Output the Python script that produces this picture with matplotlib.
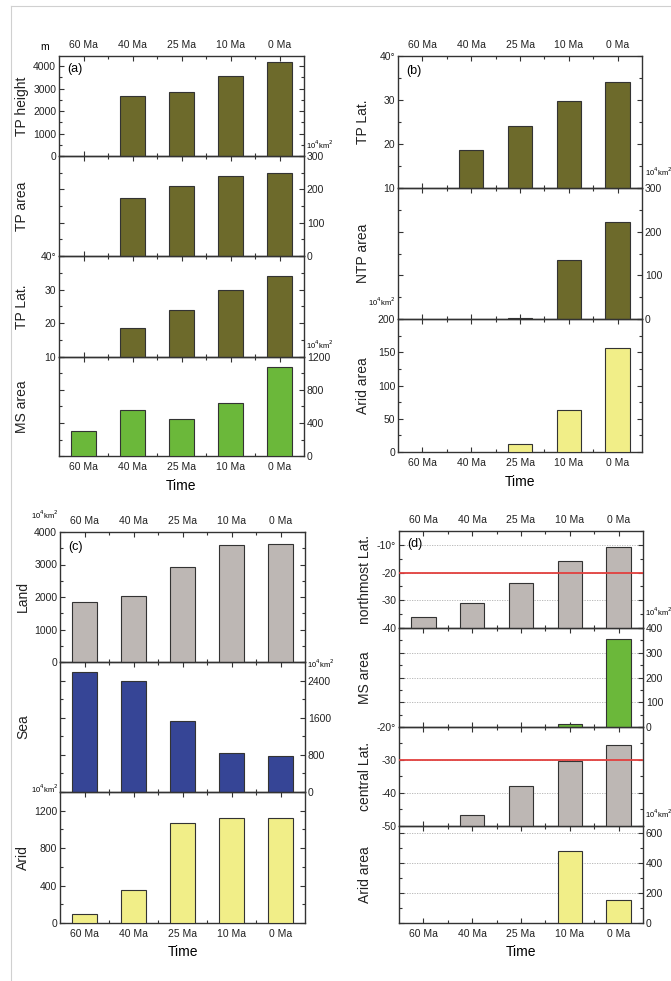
import numpy as np
import matplotlib
matplotlib.use("Agg")
import matplotlib.pyplot as plt
from matplotlib.ticker import AutoMinorLocator, FixedLocator, FuncFormatter

plt.rcParams['font.family'] = ['Liberation Sans', 'DejaVu Sans']

# ---------------- data ----------------
times = ["60 Ma", "40 Ma", "25 Ma", "10 Ma", "0 Ma"]

# panel (a)
a_tp_height = [np.nan, 2690, 2840, 3540, 4190]
a_tp_area = [np.nan, 174, 210, 240, 249]
a_tp_lat = [np.nan, 18.7, 24.1, 30.0, 34.1]
a_ms_area = [304, 560, 448, 648, 1080]

# panel (b)
b_tp_lat = [np.nan, 18.7, 24.0, 29.8, 34.2]
b_ntp_area = [np.nan, np.nan, 2, 134, 223]
b_arid_area = [np.nan, np.nan, 12.7, 62.8, 156.6]

# panel (c)
c_land = [1846, 2020, 2920, 3590, 3640]
c_sea = [2585, 2400, 1530, 840, 784]
c_arid = [93, 357, 1069, 1126, 1122]

# panel (d)
d_north_lat = [-36.0, -31.1, -23.7, -15.9, -10.9]
d_ms_area = [np.nan, np.nan, np.nan, 12, 355]
d_central_lat = [np.nan, -46.8, -38.0, -30.4, -25.5]
d_arid_area = [np.nan, np.nan, np.nan, 481, 150]

OLIVE = "#6d6a2b"
GREEN = "#6bb83a"
GRAY = "#bdb7b4"
BLUE = "#364596"
YELLOW = "#f1ee88"
RED = "#e2403e"
EDGE = "#333333"

W, H = 671, 981
fig = plt.figure(figsize=(W / 100, H / 100), dpi=100)
fig.patch.set_facecolor("white")

# light frame
fig.add_artist(plt.Line2D([11 / W, 11 / W], [0, 1 - 6 / H], color="#d0d0d0", lw=0.8))
fig.add_artist(plt.Line2D([11 / W, 1], [1 - 6 / H, 1 - 6 / H], color="#d0d0d0", lw=0.8))

TICKFS = 7.5
LABFS = 10


def ax_at(x0, y0, x1, y1):
    return fig.add_axes([x0 / W, 1 - y1 / H, (x1 - x0) / W, (y1 - y0) / H])


def fmt_deg(top):
    def f(v, pos):
        s = "%d" % round(v)
        if abs(v - top) < 1e-6:
            s += "°"
        return s
    return f


def make(ax, vals, color, ylim, yticks, side, ylabel, labx, xlab=None,
         deg=False, grid=False, hline=None):
    x = np.arange(len(times))
    v = np.array(vals, dtype=float)
    base = ylim[0]
    ax.bar(x, v - base, bottom=base, width=0.5, color=color, edgecolor=EDGE,
           linewidth=0.8, zorder=3)
    ax.set_xlim(-0.5, 4.5)
    ax.set_ylim(*ylim)
    ax.yaxis.set_major_locator(FixedLocator(yticks))
    ax.yaxis.set_minor_locator(AutoMinorLocator(2))
    ax.xaxis.set_major_locator(FixedLocator(x))
    ax.xaxis.set_minor_locator(FixedLocator(x[:-1] + 0.5))
    ax.set_xticklabels(times)
    if deg:
        ax.yaxis.set_major_formatter(FuncFormatter(fmt_deg(ylim[1])))
    ax.tick_params(axis="both", which="both", direction="in", top=True,
                   bottom=True, left=True, right=True, colors=EDGE,
                   labelcolor="#222222", labelsize=TICKFS, width=0.8)
    ax.tick_params(which="major", length=3.5)
    ax.tick_params(which="minor", length=2.2)
    ax.tick_params(axis="x", labelbottom=(xlab == "bottom"),
                   labeltop=(xlab == "top"), pad=4)
    if side == "left":
        ax.tick_params(axis="y", labelleft=True, labelright=False, pad=2)
    else:
        ax.tick_params(axis="y", labelleft=False, labelright=True, pad=2)
    for s in ax.spines.values():
        s.set_color(EDGE)
        s.set_linewidth(1.0)
    ax.set_ylabel(ylabel, fontsize=LABFS, color="#222222")
    ax.yaxis.set_label_coords(labx, 0.5)
    ax.patch.set_alpha(0)
    if grid:
        ax.set_axisbelow(True)
        ax.yaxis.grid(True, which="major", linestyle=(0, (1.5, 1.5)),
                      color="#b0b0b0", lw=0.6)
    if hline is not None:
        ax.axhline(hline, color=RED, lw=1.3, zorder=5)
    return ax


UNIT = "10$^4$km$^2$"
UFS = 5.5

# ---------- panel (a) ----------
ax_l, ax_r = 59, 304
edges = [56, 156, 256, 357, 456]
lx = (29 - ax_l) / (ax_r - ax_l)
a1 = make(ax_at(ax_l, edges[0], ax_r, edges[1]), a_tp_height, OLIVE, (0, 4450),
          [0, 1000, 2000, 3000, 4000], "left", "TP height", lx, xlab="top")
a2 = make(ax_at(ax_l, edges[1], ax_r, edges[2]), a_tp_area, OLIVE, (0, 300),
          [0, 100, 200, 300], "right", "TP area", lx)
a3 = make(ax_at(ax_l, edges[2], ax_r, edges[3]), a_tp_lat, OLIVE, (10, 40),
          [10, 20, 30, 40], "left", "TP Lat.", lx, deg=True)
a4 = make(ax_at(ax_l, edges[3], ax_r, edges[4]), a_ms_area, GREEN, (0, 1200),
          [0, 400, 800, 1200], "right", "MS area", lx, xlab="bottom")
a1.text(0.035, 0.93, "(a)", transform=a1.transAxes, fontsize=9, va="top")
a4.set_xlabel("Time", fontsize=LABFS, labelpad=5)
fig.text(45 / W, 1 - 47 / H, "m", fontsize=TICKFS, ha="center", va="center")
fig.text(306 / W, 1 - 145 / H, UNIT, fontsize=UFS, ha="left", va="center")
fig.text(306 / W, 1 - 345 / H, UNIT, fontsize=UFS, ha="left", va="center")

# ---------- panel (b) ----------
bx_l, bx_r = 398, 642
bedges = [56, 188, 319, 452]
lxb = (370 - bx_l) / (bx_r - bx_l)
b1 = make(ax_at(bx_l, bedges[0], bx_r, bedges[1]), b_tp_lat, OLIVE, (10, 40),
          [10, 20, 30, 40], "left", "TP Lat.", lxb, xlab="top", deg=True)
b2 = make(ax_at(bx_l, bedges[1], bx_r, bedges[2]), b_ntp_area, OLIVE, (0, 300),
          [0, 100, 200, 300], "right", "NTP area", lxb)
b3 = make(ax_at(bx_l, bedges[2], bx_r, bedges[3]), b_arid_area, YELLOW, (0, 200),
          [0, 50, 100, 150, 200], "left", "Arid area", lxb, xlab="bottom")
b1.text(0.035, 0.93, "(b)", transform=b1.transAxes, fontsize=9, va="top")
b3.set_xlabel("Time", fontsize=LABFS, labelpad=5)
fig.text(645 / W, 1 - 172 / H, UNIT, fontsize=UFS, ha="left", va="center")
fig.text(395 / W, 1 - 302 / H, UNIT, fontsize=UFS, ha="right", va="center")

# ---------- panel (c) ----------
cx_l, cx_r = 60, 305
cedges = [532, 662, 792, 923]
lxc = (30 - cx_l) / (cx_r - cx_l)
c1 = make(ax_at(cx_l, cedges[0], cx_r, cedges[1]), c_land, GRAY, (0, 4000),
          [0, 1000, 2000, 3000, 4000], "left", "Land", lxc, xlab="top")
c2 = make(ax_at(cx_l, cedges[1], cx_r, cedges[2]), c_sea, BLUE, (0, 2800),
          [0, 800, 1600, 2400], "right", "Sea", lxc)
c3 = make(ax_at(cx_l, cedges[2], cx_r, cedges[3]), c_arid, YELLOW, (0, 1400),
          [0, 400, 800, 1200], "left", "Arid", lxc, xlab="bottom")
c1.text(0.035, 0.93, "(c)", transform=c1.transAxes, fontsize=9, va="top")
c3.set_xlabel("Time", fontsize=LABFS, labelpad=5)
fig.text(58 / W, 1 - 515 / H, UNIT, fontsize=UFS, ha="right", va="center")
fig.text(307 / W, 1 - 664 / H, UNIT, fontsize=UFS, ha="left", va="center")
fig.text(58 / W, 1 - 789 / H, UNIT, fontsize=UFS, ha="right", va="center")

# ---------- panel (d) ----------
dx_l, dx_r = 399, 643
dedges = [531, 628, 727, 826, 923]
lxd = (372 - dx_l) / (dx_r - dx_l)
d1 = make(ax_at(dx_l, dedges[0], dx_r, dedges[1]), d_north_lat, GRAY, (-40, -5),
          [-40, -30, -20, -10], "left", "northmost Lat.", lxd, xlab="top",
          grid=True, hline=-20)
d1.yaxis.set_major_formatter(FuncFormatter(
    lambda v, p: "%d°" % round(v) if round(v) == -10 else "%d" % round(v)))
d2 = make(ax_at(dx_l, dedges[1], dx_r, dedges[2]), d_ms_area, GREEN, (0, 400),
          [0, 100, 200, 300, 400], "right", "MS area", lxd, grid=True)
d3 = make(ax_at(dx_l, dedges[2], dx_r, dedges[3]), d_central_lat, GRAY, (-50, -20),
          [-50, -40, -30, -20], "left", "central Lat.", lxd, deg=True,
          grid=True, hline=-30)
d4 = make(ax_at(dx_l, dedges[3], dx_r, dedges[4]), d_arid_area, YELLOW, (0, 645),
          [0, 200, 400, 600], "right", "Arid area", lxd, xlab="bottom", grid=True)
d1.text(0.035, 0.93, "(d)", transform=d1.transAxes, fontsize=9, va="top")
d4.set_xlabel("Time", fontsize=LABFS, labelpad=5)
fig.text(645 / W, 1 - 612 / H, UNIT, fontsize=UFS, ha="left", va="center")
fig.text(645 / W, 1 - 814 / H, UNIT, fontsize=UFS, ha="left", va="center")

fig.savefig("out.png", dpi=100)
